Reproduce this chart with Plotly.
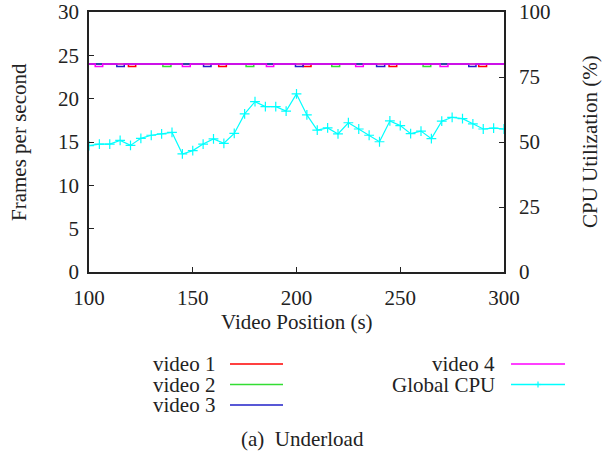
import plotly.graph_objects as go

# ---- data ----
cpu_x = list(range(100, 301, 5))
cpu_util = [48.6, 49.2, 49.2, 50.6, 48.7, 51.4, 52.6, 53.1, 53.7, 45.4,
            46.7, 49.2, 51.2, 49.5, 53.3, 60.8, 65.5, 63.6, 63.6, 61.9,
            68.5, 60.4, 54.6, 55.4, 53.1, 57.4, 55.0, 52.6, 50.1, 58.1,
            56.3, 53.2, 54.2, 51.3, 58.0, 59.5, 59.0, 57.0, 55.0, 55.3, 55.0]

v1_x = [100, 119, 122.5, 162.5, 166.2, 203.2, 207, 244.6, 248.3, 287.8, 291.6, 300]
v1_y = [24, 23.7, 24, 23.7, 24, 23.7, 24, 23.7, 24, 23.7, 24, 24]
v2_x = [100, 135.6, 139.5, 175.7, 179.4, 217, 220.8, 261, 264.7, 300]
v2_y = [24, 23.7, 24, 23.7, 24, 23.7, 24, 23.7, 24, 24]
v3_x = [100, 113.4, 117, 155.2, 158.8, 199.5, 203.2, 238.6, 242.5, 283, 286.5, 300]
v3_y = [24, 23.7, 24, 23.7, 24, 23.7, 24, 23.7, 24, 23.7, 24, 24]
v4_x = [100, 103, 106.6, 145, 148.8, 185.5, 189, 228.5, 232.2, 269.2, 273, 300]
v4_y = [24, 23.7, 24, 23.7, 24, 23.7, 24, 23.7, 24, 23.7, 24, 24]

series_names = ["video 1", "video 2", "video 3", "video 4", "Global CPU"]
colors = ["#ff0000", "#33dd33", "#2020c8", "#ff00ff", "#00ffff"]

x_ticks = [100, 150, 200, 250, 300]
y_ticks = [0, 5, 10, 15, 20, 25, 30]
y2_ticks = [0, 25, 50, 75, 100]

FONT = "Liberation Serif, Times New Roman, serif"
FS = 21
W, H = 605, 453
L, R, T, B = 89, 504, 12, 272

fig = go.Figure()
for xs, ys, name, c in zip([v1_x, v2_x, v3_x, v4_x], [v1_y, v2_y, v3_y, v4_y],
                           series_names[:4], colors[:4]):
    fig.add_trace(go.Scatter(x=xs, y=ys, mode="lines", name=name,
                             line=dict(color=c, width=1.5, shape="hv"),
                             showlegend=False))
fig.add_trace(go.Scatter(x=cpu_x, y=cpu_util, mode="lines+markers", name=series_names[4],
                         yaxis="y2", line=dict(color=colors[4], width=1.2),
                         marker=dict(symbol="cross-thin", size=7,
                                     line=dict(color=colors[4], width=1.2)),
                         showlegend=False))

axis_common = dict(showgrid=False, zeroline=False, ticks="inside", ticklen=5,
                   tickcolor="#222", linecolor="#222", linewidth=1.5, automargin=False,
                   tickfont=dict(family=FONT, size=FS, color="#222"))

fig.update_layout(
    width=W, height=H,
    margin=dict(l=L, r=W - R, t=T, b=H - B, autoexpand=False),
    paper_bgcolor="white", plot_bgcolor="white",
    font=dict(family=FONT, size=FS, color="#222"),
    xaxis=dict(range=[100, 300], tickvals=x_ticks, showline=True, mirror=True,
               ticklabelstandoff=6, **axis_common),
    yaxis=dict(range=[0, 30], tickvals=y_ticks, showline=True, mirror=False,
               ticklabelstandoff=4, **axis_common),
    yaxis2=dict(range=[0, 100], tickvals=y2_ticks, overlaying="y", side="right",
                showline=True, ticklabelstandoff=9, **axis_common),
    showlegend=False,
)

def px(xp):
    return (xp - L) / (R - L)

def py(yp):
    return (B - yp) / (B - T)

def txt(text, x, y, angle=0, xanchor="center"):
    return dict(text=text, x=px(x), y=py(y), xref="paper", yref="paper",
                xanchor=xanchor, yanchor="middle", textangle=angle, showarrow=False,
                font=dict(family=FONT, size=FS, color="#222"))

anns = [
    txt("Video Position (s)", 297, 322),
    txt("Frames per second", 19, 142, -90),
    txt("CPU Utilization (%)", 590, 142, -90),
    txt("(a)  Underload", 302, 439),
]

# custom gnuplot-style legend
legend_pos = [(217, 230, 283, 364), (217, 230, 283, 384.5), (217, 230, 283, 405),
              (497, 511, 565, 364), (497, 511, 565, 384.5)]
shapes = []
for (tx, l0, l1, ly), name, c in zip(legend_pos, series_names, colors):
    anns.append(txt(name, tx, ly, xanchor="right"))
    shapes.append(dict(type="line", xref="paper", yref="paper", x0=px(l0), x1=px(l1),
                       y0=py(ly), y1=py(ly), line=dict(color=c, width=1.5)))
# plus marker on Global CPU legend sample
mx = (legend_pos[4][1] + legend_pos[4][2]) / 2
my = legend_pos[4][3]
shapes.append(dict(type="line", xref="paper", yref="paper", x0=px(mx - 3), x1=px(mx + 3),
                   y0=py(my), y1=py(my), line=dict(color=colors[4], width=1.2)))
shapes.append(dict(type="line", xref="paper", yref="paper", x0=px(mx), x1=px(mx),
                   y0=py(my - 3), y1=py(my + 3), line=dict(color=colors[4], width=1.2)))

fig.update_layout(annotations=anns, shapes=shapes)
fig.write_html("out.html")
